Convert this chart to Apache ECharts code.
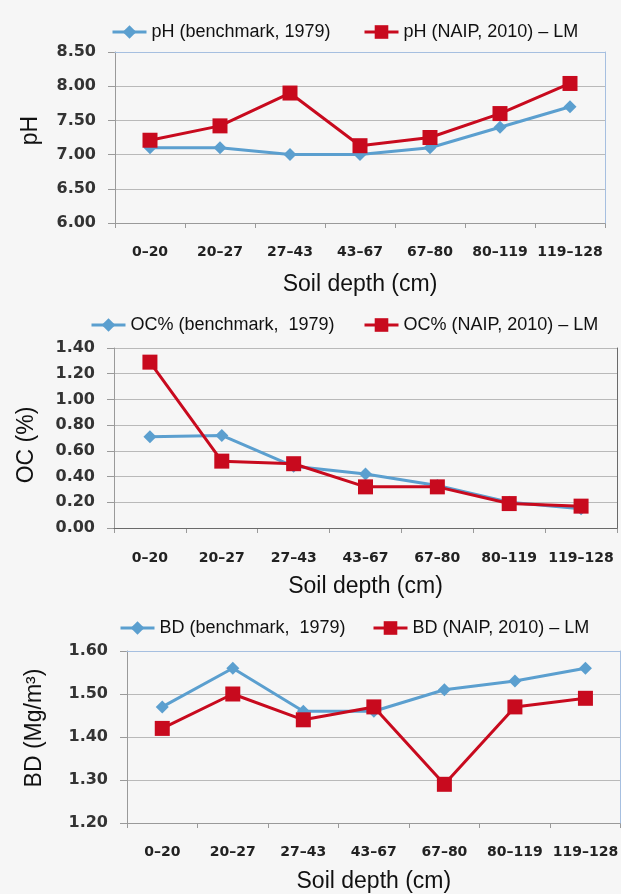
<!DOCTYPE html>
<html>
<head>
<meta charset="utf-8">
<script src="https://cdn.jsdelivr.net/npm/echarts@6/dist/echarts.min.js"></script>
<style>
html,body{margin:0;padding:0;background:#f6f6f6;}
#chart{width:621px;height:894px;}
</style>
</head>
<body>
<div id="chart"></div>
<script>
// ---- data ----
const depthCategories = ['0–20', '20–27', '27–43', '43–67', '67–80', '80–119', '119–128'];

const phBenchmark = [7.10, 7.10, 7.00, 7.00, 7.10, 7.40, 7.70];
const phNaip      = [7.21, 7.42, 7.90, 7.13, 7.25, 7.60, 8.04];
const phTicks     = [6.00, 6.50, 7.00, 7.50, 8.00, 8.50];

const ocBenchmark = [0.71, 0.72, 0.48, 0.42, 0.33, 0.20, 0.15];
const ocNaip      = [1.29, 0.52, 0.50, 0.32, 0.32, 0.19, 0.17];
const ocTicks     = [0.00, 0.20, 0.40, 0.60, 0.80, 1.00, 1.20, 1.40];

const bdBenchmark = [1.47, 1.56, 1.46, 1.46, 1.51, 1.53, 1.56];
const bdNaip      = [1.42, 1.50, 1.44, 1.47, 1.29, 1.47, 1.49];
const bdTicks     = [1.20, 1.30, 1.40, 1.50, 1.60];

const seriesNames = [
  ['pH (benchmark, 1979)', 'pH (NAIP, 2010) – LM'],
  ['OC% (benchmark,  1979)', 'OC% (NAIP, 2010) – LM'],
  ['BD (benchmark,  1979)', 'BD (NAIP, 2010) – LM']
];
const yNames = ['pH', 'OC (%)', 'BD (Mg/m³)'];
const xName = 'Soil depth (cm)';

// ---- layout / style ----
const BLUE = '#5b9fcf';
const RED = '#c80a1e';
const AXIS_GRAY = '#9a9a9a';
const GRID_GRAY = '#b9b9b9';

const panels = [
  { values: [phBenchmark, phNaip], ticks: phTicks, grid: { left: 115, top: 52, width: 490, height: 171 },
    legendTop: 23, legendLeft: [111, 363], border: '#a6bfe0', nameGap: 73, namePad: [0, 0, 0, 14],
    xNameGap: 50, xLabelMargin: 22 },
  { values: [ocBenchmark, ocNaip], ticks: ocTicks, grid: { left: 114, top: 348, width: 503, height: 180 },
    legendTop: 316, legendLeft: [90, 363], border: '#6a6a6a', nameGap: 76, namePad: [0, 14, 0, 0],
    xNameGap: 47, xLabelMargin: 23 },
  { values: [bdBenchmark, bdNaip], ticks: bdTicks, grid: { left: 127, top: 651, width: 496, height: 177 },
    legendTop: 619, legendLeft: [119, 372], border: '#a6bfe0', nameGap: 81, namePad: [0, 0, 0, 18],
    xNameGap: 47, xLabelMargin: 22 }
];

const grids = [], xAxes = [], yAxes = [], series = [], legends = [];

panels.forEach((p, i) => {
  const ticks = p.ticks;
  const yMin = ticks[0], yMax = ticks[ticks.length - 1];
  const step = +(ticks[1] - ticks[0]).toFixed(4);
  grids.push(Object.assign({ containLabel: false }, p.grid));

  xAxes.push({
    gridIndex: i, type: 'category', data: depthCategories, boundaryGap: true,
    name: xName, nameLocation: 'middle', nameGap: p.xNameGap,
    nameTextStyle: { fontFamily: 'Liberation Sans', fontSize: 23, color: '#111' },
    axisLine: { show: true, lineStyle: { color: AXIS_GRAY, width: 1 } },
    axisTick: { show: true, length: 5, alignWithLabel: false, lineStyle: { color: AXIS_GRAY } },
    axisLabel: { margin: p.xLabelMargin, fontFamily: 'DejaVu Sans', fontWeight: 'bold', fontSize: 14, color: '#222', interval: 0 },
    splitLine: { show: false }
  });
  yAxes.push({
    gridIndex: i, type: 'value', min: yMin, max: yMax, interval: step,
    name: yNames[i], nameLocation: 'middle', nameGap: p.nameGap,
    nameTextStyle: { fontFamily: 'Liberation Sans', fontSize: 23, color: '#111', padding: p.namePad },
    axisLine: { show: true, lineStyle: { color: AXIS_GRAY, width: 1 } },
    axisTick: { show: true, inside: false, length: 7, lineStyle: { color: AXIS_GRAY } },
    axisLabel: { margin: 19, fontFamily: 'DejaVu Sans', fontWeight: 'bold', fontSize: 16, color: '#333',
                 padding: [0, 0, 4, 0], formatter: v => v.toFixed(2) },
    splitLine: { show: true, lineStyle: { color: GRID_GRAY, width: 1 } }
  });

  [0, 1].forEach(k => {
    const color = k === 0 ? BLUE : RED;
    series.push({
      name: seriesNames[i][k], type: 'line',
      xAxisIndex: i, yAxisIndex: i,
      data: p.values[k],
      symbol: k === 0 ? 'diamond' : 'rect',
      symbolSize: k === 0 ? 13 : 15,
      lineStyle: { color: color, width: 3 },
      itemStyle: { color: color },
      z: 3 + k,
      animation: false
    });
    legends.push({
      data: [seriesNames[i][k]],
      left: p.legendLeft[k], top: p.legendTop, padding: 0,
      itemWidth: 34, itemHeight: 17,
      lineStyle: { width: 3, color: color },
      itemStyle: { color: color },
      textStyle: { fontFamily: 'Liberation Sans', fontSize: 18, color: '#111' },
      selectedMode: false
    });
  });
});

// plot frame (top and right edges)
panels.forEach((p, i) => {
  const ticks = p.ticks;
  xAxes.push({
    gridIndex: i, type: 'category', data: depthCategories, position: 'top', z: 5,
    axisLine: { show: true, lineStyle: { color: p.border, width: 1 } },
    axisTick: { show: false }, axisLabel: { show: false }, splitLine: { show: false }
  });
  yAxes.push({
    gridIndex: i, type: 'value', position: 'right', z: 5,
    min: ticks[0], max: ticks[ticks.length - 1],
    axisLine: { show: true, lineStyle: { color: p.border, width: 1 } },
    axisTick: { show: false }, axisLabel: { show: false }, splitLine: { show: false }
  });
});

const chart = echarts.init(document.getElementById('chart'), null, { renderer: 'canvas' });
chart.setOption({
  backgroundColor: '#f6f6f6',
  animation: false,
  grid: grids,
  xAxis: xAxes,
  yAxis: yAxes,
  legend: legends,
  series: series
});
</script>
</body>
</html>
